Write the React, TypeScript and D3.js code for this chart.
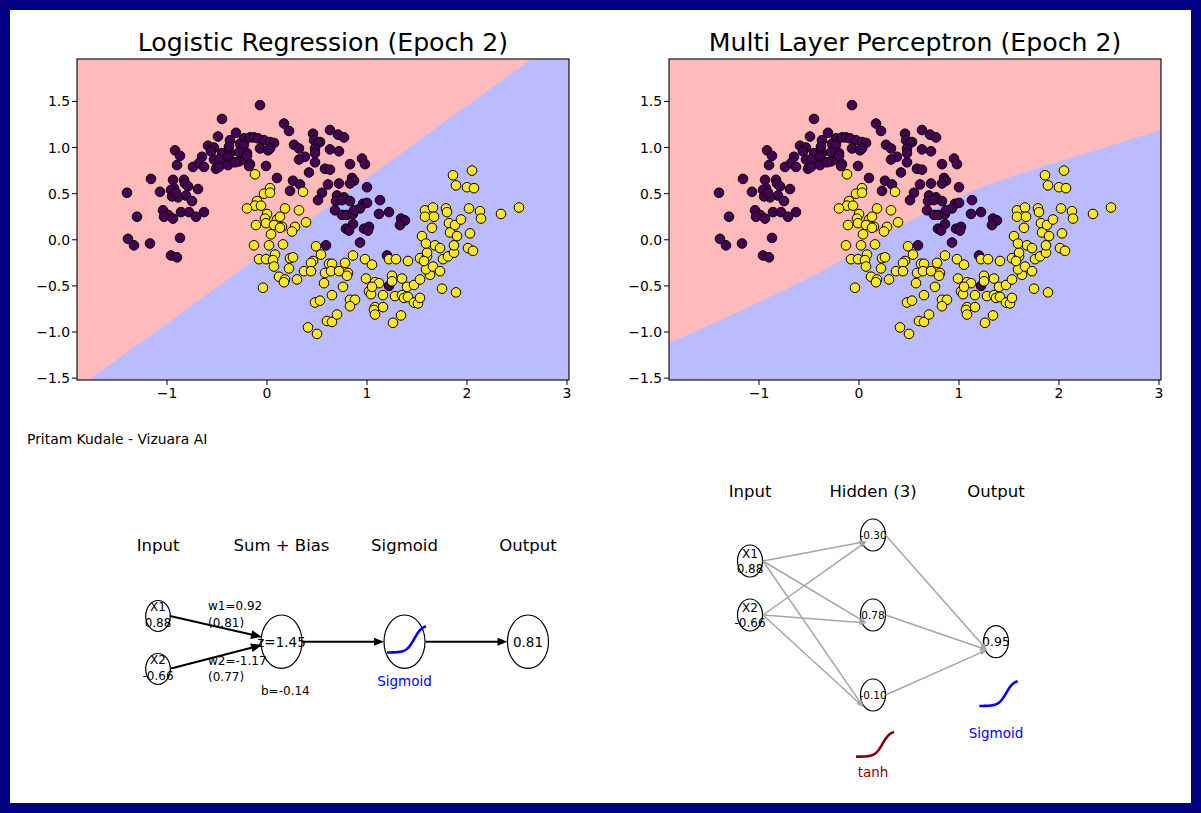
import React from 'react';
import * as d3 from 'd3';

const W = 1201;
const H = 813;

// ---------- data ----------
const class0: [number, number][] = [
  [-0.07, 1.46], [-0.45, 1.31], [0.17, 1.26], [0.22, 1.18], [-0.31, 1.16], [-0.49, 1.12],
  [0.63, 1.19], [0.71, 1.14], [0.77, 1.11], [0.46, 1.15], [0.47, 1.08], [0.53, 1.06], [0.51, 1.05],
  [-0.23, 1.10], [-0.17, 1.11], [-0.13, 1.11], [-0.09, 1.10], [-0.37, 1.08], [-0.27, 1.04], [-0.23, 1.03],
  [-0.03, 1.08], [0.03, 1.06], [0.07, 1.05], [0.27, 1.03], [0.32, 0.99],
  [-0.59, 1.02], [-0.53, 1.00], [-0.56, 0.96], [-0.45, 0.94], [-0.37, 0.94], [-0.28, 0.95], [-0.20, 0.94], [-0.38, 1.01],
  [-0.92, 0.97], [-0.87, 0.91], [-0.07, 0.99], [0.01, 0.97], [0.03, 0.99],
  [0.48, 0.99], [0.63, 0.98], [0.72, 0.96],
  [-0.65, 0.90], [-0.53, 0.87], [-0.47, 0.87], [-0.39, 0.90], [-0.28, 0.85], [-0.22, 0.87], [-0.20, 0.91], [-0.17, 0.82],
  [0.38, 0.90], [0.32, 0.87], [0.48, 0.94], [0.48, 0.84], [0.95, 0.88], [0.98, 0.82],
  [-0.90, 0.81], [-0.74, 0.79], [-0.68, 0.83], [-0.63, 0.79], [-0.51, 0.77], [-0.48, 0.79], [-0.39, 0.81], [-0.32, 0.84],
  [-0.01, 0.80], [-0.18, 0.80], [0.58, 0.77], [0.63, 0.76], [0.83, 0.82], [0.42, 0.73],
  [-1.16, 0.66], [-0.94, 0.65], [-0.83, 0.65], [-0.82, 0.61], [-0.93, 0.56], [-0.96, 0.54], [-0.79, 0.58], [-0.69, 0.55],
  [-1.07, 0.52], [-0.81, 0.48], [-0.89, 0.46], [-0.95, 0.47], [-0.75, 0.42], [-0.91, 0.51],
  [0.10, 0.67], [0.26, 0.64], [0.33, 0.60], [0.23, 0.53],
  [0.61, 0.60], [0.72, 0.61], [0.85, 0.67], [0.87, 0.64], [0.83, 0.61], [0.55, 0.51], [0.51, 0.43], [1.00, 0.57],
  [-1.40, 0.51], [0.70, 0.48], [0.77, 0.46], [0.69, 0.42], [0.75, 0.43], [0.83, 0.42],
  [0.96, 0.39], [1.00, 0.40], [1.13, 0.43],
  [-1.04, 0.32], [-0.86, 0.30], [-0.78, 0.30], [-0.63, 0.30], [-0.99, 0.27], [-1.03, 0.25], [-0.94, 0.23], [-0.71, 0.25],
  [0.93, 0.34], [0.68, 0.32], [0.75, 0.27], [0.80, 0.27], [0.86, 0.28], [0.87, 0.32],
  [1.12, 0.28], [1.22, 0.30], [1.34, 0.23], [1.38, 0.21], [1.33, 0.16], [-1.30, 0.25],
  [0.86, 0.17], [0.79, 0.12], [0.82, 0.10], [0.97, 0.12], [1.02, 0.14], [1.01, 0.10],
  [-0.87, 0.02], [-1.39, 0.01], [-1.33, -0.06], [-1.17, -0.04], [-0.96, -0.17], [-0.90, -0.19],
  [0.59, -0.06], [0.93, -0.03], [1.20, -0.17], [1.22, -0.50],
];

const class1: [number, number][] = [
  [-0.12, 0.71], [0.03, 0.56], [-0.03, 0.50], [0.03, 0.51], [0.36, 0.52],
  [-0.10, 0.42], [-0.12, 0.37], [-0.20, 0.34], [-0.06, 0.37], [0.18, 0.34], [0.32, 0.32],
  [0.00, 0.28], [-0.02, 0.23], [0.10, 0.22], [0.13, 0.25], [-0.01, 0.18], [0.07, 0.16], [0.15, 0.14],
  [-0.11, 0.16], [0.04, 0.06], [0.13, 0.13], [0.39, 0.19], [0.28, 0.14], [0.25, 0.09],
  [-0.13, -0.06], [0.02, -0.06], [0.16, -0.05],
  [-0.08, -0.21], [-0.01, -0.21], [0.08, -0.16], [0.06, -0.22], [0.07, -0.29], [0.23, -0.20], [0.26, -0.19],
  [0.49, -0.07], [0.54, -0.16], [0.46, -0.23], [0.44, -0.25], [0.62, -0.26], [0.65, -0.26], [0.78, -0.25],
  [0.86, -0.17], [0.98, -0.21], [1.05, -0.27],
  [0.22, -0.31], [0.12, -0.40], [0.18, -0.43], [0.17, -0.46], [0.30, -0.43], [0.37, -0.34], [0.44, -0.34],
  [0.58, -0.36], [0.64, -0.34], [0.72, -0.34], [0.81, -0.36], [0.80, -0.39],
  [-0.04, -0.52], [0.57, -0.47], [0.76, -0.51], [0.99, -0.42],
  [0.65, -0.60], [0.48, -0.68], [0.53, -0.66], [0.83, -0.65], [0.88, -0.65], [0.83, -0.72],
  [1.02, -0.56], [1.04, -0.59], [1.08, -0.46], [1.12, -0.47], [1.05, -0.51],
  [1.16, -0.60], [1.28, -0.61], [1.35, -0.60], [1.40, -0.51], [1.47, -0.49], [1.37, -0.63], [1.41, -0.62],
  [1.47, -0.68], [1.51, -0.69], [1.53, -0.63],
  [1.25, -0.39], [1.25, -0.45], [1.35, -0.42],
  [1.08, -0.73], [1.07, -0.76], [1.08, -0.81], [1.16, -0.73],
  [0.60, -0.88], [0.65, -0.89], [0.70, -0.81], [0.41, -0.95], [0.50, -1.02], [1.26, -0.90], [1.34, -0.82],
  [1.22, -0.21], [1.29, -0.21], [1.41, -0.23], [1.53, -0.20], [1.53, -0.43], [1.60, -0.18], [1.60, -0.14],
  [1.63, -0.38], [1.59, -0.32], [1.66, -0.29], [1.73, -0.34], [1.57, -0.23], [1.75, -0.53], [1.89, -0.57],
  [1.55, 0.04], [1.59, -0.04], [1.68, -0.06], [1.73, -0.09], [1.65, 0.13], [1.76, -0.21], [1.81, -0.18],
  [1.87, -0.14], [1.87, -0.06],
  [1.58, 0.32], [1.58, 0.25], [1.66, 0.35], [1.67, 0.25], [1.79, 0.34], [1.80, 0.30], [1.82, 0.18], [1.83, 0.08],
  [1.90, 0.04], [1.88, 0.16], [1.94, 0.22], [2.02, 0.34], [2.03, 0.07], [2.13, 0.31], [2.14, 0.23],
  [2.01, -0.09], [2.06, -0.12],
  [1.86, 0.70], [2.05, 0.75], [1.89, 0.59], [2.00, 0.57], [2.07, 0.56], [2.34, 0.28], [2.52, 0.35],
];

const lrWeights = [0.92, -1.17];
const lrBias = -0.14;

const mlpBoundaryX = [-1.9, -0.93, -0.1, 0.4, 1.07, 1.73, 2.4, 3.03];
const mlpBoundaryY = [-1.12, -0.64, -0.18, 0.14, 0.5, 0.76, 0.98, 1.2];

const xTicks = [-1, 0, 1, 2, 3];
const yTicks = [-1.5, -1.0, -0.5, 0.0, 0.5, 1.0, 1.5];

const panelTitles = ['Logistic Regression (Epoch 2)', 'Multi Layer Perceptron (Epoch 2)'];
const inputNames = ['X1', 'X2'];
const inputValues = [0.88, -0.66];
const lrProducts = [0.81, 0.77];
const lrZ = 1.45;
const lrOutput = 0.81;
const lrHeaders = ['Input', 'Sum + Bias', 'Sigmoid', 'Output'];
const mlpHeaders = ['Input', 'Hidden (3)', 'Output'];
const mlpHidden = [-0.3, 0.78, -0.1];
const mlpOutput = 0.95;
const credit = 'Pritam Kudale - Vizuara AI';

// ---------- helpers ----------
const FONT = 'DejaVu Sans, Verdana, sans-serif';
const PINK = '#FFBBBB';
const BLUE = '#BBBBFF';
const C0 = '#440154';
const C1 = '#FDE725';

const allPts = [...class0, ...class1];
const xExt = d3.extent(allPts, (d) => d[0]) as [number, number];
const yExt = d3.extent(allPts, (d) => d[1]) as [number, number];
const xDomain: [number, number] = [xExt[0] - 0.5, xExt[1] + 0.5];
const yDomain: [number, number] = [yExt[0] - 0.5, yExt[1] + 0.5];

const fmtTick = (v: number, dec: number) => {
  const s = Math.abs(v).toFixed(dec);
  return v < 0 ? '\u2212' + s : s;
};
const fmt2 = (v: number) => (v < 0 ? '-' : '') + Math.abs(v).toFixed(2);

function Arrow({ x1, y1, x2, y2, color, lw, hl, hw }: any) {
  const dx = x2 - x1;
  const dy = y2 - y1;
  const L = Math.hypot(dx, dy);
  const ux = dx / L;
  const uy = dy / L;
  const bx = x2 - ux * hl;
  const by = y2 - uy * hl;
  const px = -uy;
  const py = ux;
  const pts = `${x2},${y2} ${bx + (px * hw) / 2},${by + (py * hw) / 2} ${bx - (px * hw) / 2},${by - (py * hw) / 2}`;
  return (
    <g>
      <line x1={x1} y1={y1} x2={bx + ux * 1} y2={by + uy * 1} stroke={color} strokeWidth={lw} />
      <polygon points={pts} fill={color} />
    </g>
  );
}

function Curve({ x0, y0, w, h, color, kind }: any) {
  const t = d3.range(-7, 3.001, 0.1);
  const f = (v: number) => (kind === 'tanh' ? (Math.tanh(v / 2) + 1) / 2 : 1 / (1 + Math.exp(-v)));
  const sx = d3.scaleLinear().domain([-7, 3]).range([x0, x0 + w]);
  const sy = d3.scaleLinear().domain([0, 1]).range([y0, y0 - h]);
  const line = d3.line<number>().x((v) => sx(v)).y((v) => sy(f(v)));
  return <path d={line(t) || ''} fill="none" stroke={color} strokeWidth={2.6} />;
}

function Panel({ idx, x0, x1, y0, y1 }: any) {
  const xs = d3.scaleLinear().domain(xDomain).range([x0, x1]);
  const ys = d3.scaleLinear().domain(yDomain).range([y1, y0]);
  const clipId = `clip${idx}`;
  let pinkPath = '';
  if (idx === 0) {
    const yAt = (x: number) => -(lrWeights[0] * x + lrBias) / lrWeights[1];
    const ytop = yDomain[1] + 5;
    pinkPath = `M${xs(xDomain[0])},${ys(yAt(xDomain[0]))}L${xs(xDomain[1])},${ys(yAt(xDomain[1]))}L${xs(xDomain[1])},${ys(ytop)}L${xs(xDomain[0])},${ys(ytop)}Z`;
  } else {
    const pts = mlpBoundaryX.map((x, i) => [x, mlpBoundaryY[i]] as [number, number]);
    const line = d3.line<[number, number]>().x((d) => xs(d[0])).y((d) => ys(d[1])).curve(d3.curveMonotoneX);
    pinkPath = (line(pts) || '') + `L${xs(xDomain[1]) + 2},${y0 - 2}L${xs(xDomain[0]) - 2},${y0 - 2}Z`;
  }
  return (
    <g>
      <defs>
        <clipPath id={clipId}>
          <rect x={x0} y={y0} width={x1 - x0} height={y1 - y0} />
        </clipPath>
      </defs>
      <g clipPath={`url(#${clipId})`}>
        <rect x={x0} y={y0} width={x1 - x0} height={y1 - y0} fill={BLUE} />
        <path d={pinkPath} fill={PINK} />
        {class0.map((d, i) => (
          <circle key={'a' + i} cx={xs(d[0])} cy={ys(d[1])} r={4.8} fill={C0} stroke="#000" strokeWidth={1} />
        ))}
        {class1.map((d, i) => (
          <circle key={'b' + i} cx={xs(d[0])} cy={ys(d[1])} r={4.8} fill={C1} stroke="#000" strokeWidth={1} />
        ))}
      </g>
      <rect x={x0} y={y0} width={x1 - x0} height={y1 - y0} fill="none" stroke="#000" strokeWidth={1.1} />
      {xTicks.map((t) => (
        <g key={'x' + t}>
          <line x1={xs(t)} x2={xs(t)} y1={y1} y2={y1 + 5} stroke="#000" strokeWidth={1} />
          <text x={xs(t)} y={y1 + 18} fontSize={13.9} textAnchor="middle" fontFamily={FONT}>
            {fmtTick(t, 0)}
          </text>
        </g>
      ))}
      {yTicks.map((t) => (
        <g key={'y' + t}>
          <line x1={x0 - 5} x2={x0} y1={ys(t)} y2={ys(t)} stroke="#000" strokeWidth={1} />
          <text x={x0 - 7} y={ys(t) + 5} fontSize={13.9} textAnchor="end" fontFamily={FONT}>
            {fmtTick(t, 1)}
          </text>
        </g>
      ))}
      <text x={(x0 + x1) / 2} y={y0 - 8} fontSize={25.2} textAnchor="middle" fontFamily={FONT}>
        {panelTitles[idx]}
      </text>
    </g>
  );
}

function LRDiagram() {
  const colX = [158, 281.5, 404.5, 528];
  const inY = [616, 669];
  const midY = 641.7;
  return (
    <g fontFamily={FONT}>
      {lrHeaders.map((h, i) => (
        <text key={h} x={colX[i]} y={551} fontSize={16.5} textAnchor="middle">
          {h}
        </text>
      ))}
      {inputNames.map((n, i) => (
        <g key={n}>
          <ellipse cx={colX[0]} cy={inY[i]} rx={12.3} ry={15.5} fill="none" stroke="#000" strokeWidth={1.2} />
          <text x={colX[0]} y={inY[i] - 5} fontSize={12} textAnchor="middle">{n}</text>
          <text x={colX[0]} y={inY[i] + 10.5} fontSize={12} textAnchor="middle">{fmt2(inputValues[i])}</text>
        </g>
      ))}
      {[1, 2, 3].map((c) => (
        <ellipse key={c} cx={colX[c]} cy={midY} rx={20.5} ry={26.7} fill="none" stroke="#000" strokeWidth={1.2} />
      ))}
      <text x={colX[1]} y={midY + 5} fontSize={13.5} textAnchor="middle">{`z=${lrZ.toFixed(2)}`}</text>
      <text x={colX[3]} y={midY + 5} fontSize={13.5} textAnchor="middle">{lrOutput.toFixed(2)}</text>
      <text x={208} y={610} fontSize={12}>{`w1=${lrWeights[0].toFixed(2)}`}</text>
      <text x={208} y={626.5} fontSize={12}>{`(${lrProducts[0].toFixed(2)})`}</text>
      <text x={208} y={665} fontSize={12}>{`w2=${lrWeights[1].toFixed(2)}`}</text>
      <text x={208} y={680.5} fontSize={12}>{`(${lrProducts[1].toFixed(2)})`}</text>
      <text x={261} y={695} fontSize={12}>{`b=${lrBias.toFixed(2)}`}</text>
      <Arrow x1={170} y1={616} x2={262} y2={637} color="#000" lw={2} hl={11} hw={9} />
      <Arrow x1={171} y1={668.5} x2={262} y2={645} color="#000" lw={2} hl={11} hw={9} />
      <Arrow x1={302} y1={midY} x2={384} y2={midY} color="#000" lw={2} hl={10} hw={8} />
      <Arrow x1={425.5} y1={midY} x2={507.5} y2={midY} color="#000" lw={2} hl={10} hw={8} />
      <Curve x0={387} y0={652.5} w={39} h={27.5} color="#0000FF" kind="sigmoid" />
      <text x={colX[2]} y={685.5} fontSize={13.5} textAnchor="middle" fill="#0000FF">Sigmoid</text>
    </g>
  );
}

function MLPDiagram() {
  const colX = [750, 873, 996];
  const inY = [561, 615];
  const hidY = [535, 615, 695];
  const outY = 641.7;
  const hidEnds = [[866.5, 541.5], [866.5, 623], [863.5, 707]];
  const gray = '#a5a5a5';
  return (
    <g fontFamily={FONT}>
      {mlpHeaders.map((h, i) => (
        <text key={h} x={colX[i]} y={497} fontSize={16.5} textAnchor="middle">
          {h}
        </text>
      ))}
      {inputNames.map((n, i) => (
        <g key={n}>
          <ellipse cx={colX[0]} cy={inY[i]} rx={12.5} ry={16} fill="none" stroke="#000" strokeWidth={1.2} />
          <text x={colX[0]} y={inY[i] - 3} fontSize={12} textAnchor="middle">{n}</text>
          <text x={colX[0]} y={inY[i] + 12} fontSize={12} textAnchor="middle">{fmt2(inputValues[i])}</text>
        </g>
      ))}
      {hidY.map((y, j) => (
        <g key={'h' + j}>
          <ellipse cx={colX[1]} cy={y} rx={12.5} ry={16} fill="none" stroke="#000" strokeWidth={1.2} />
          <text x={colX[1]} y={y + 4} fontSize={10.5} textAnchor="middle">{fmt2(mlpHidden[j])}</text>
        </g>
      ))}
      <ellipse cx={colX[2]} cy={outY} rx={12.5} ry={16} fill="none" stroke="#000" strokeWidth={1.2} />
      <text x={colX[2]} y={outY + 4.5} fontSize={12.5} textAnchor="middle">{mlpOutput.toFixed(2)}</text>
      {inY.map((y, i) =>
        hidEnds.map((e, j) => (
          <Arrow key={`ih${i}${j}`} x1={763} y1={y} x2={e[0]} y2={e[1]} color={gray} lw={1.5} hl={7} hw={5} />
        ))
      )}
      {hidY.map((y, j) => (
        <Arrow key={`ho${j}`} x1={885.5} y1={y} x2={987} y2={650} color={gray} lw={1.5} hl={7} hw={5} />
      ))}
      <Curve x0={856} y0={756.7} w={38} h={26} color="#8B0000" kind="tanh" />
      <text x={colX[1]} y={776.5} fontSize={13.5} textAnchor="middle" fill="#8B0000">tanh</text>
      <Curve x0={979.3} y0={706} w={38.4} h={26} color="#0000FF" kind="sigmoid" />
      <text x={colX[2]} y={738} fontSize={13.5} textAnchor="middle" fill="#0000FF">Sigmoid</text>
    </g>
  );
}

export default function App() {
  return (
    <svg
      width={W}
      height={H}
      style={{ position: 'absolute', left: 0, top: 0, display: 'block' }}
      fontFamily={FONT}
    >
      <rect x={0} y={0} width={W} height={H} fill="#000080" />
      <rect x={10} y={10} width={W - 20} height={H - 20} fill="#ffffff" />
      <Panel idx={0} x0={77} x1={569} y0={59} y1={380} />
      <Panel idx={1} x0={669} x1={1161} y0={59} y1={380} />
      <text x={27} y={444} fontSize={13.9} fontFamily={FONT}>{credit}</text>
      <LRDiagram />
      <MLPDiagram />
    </svg>
  );
}
